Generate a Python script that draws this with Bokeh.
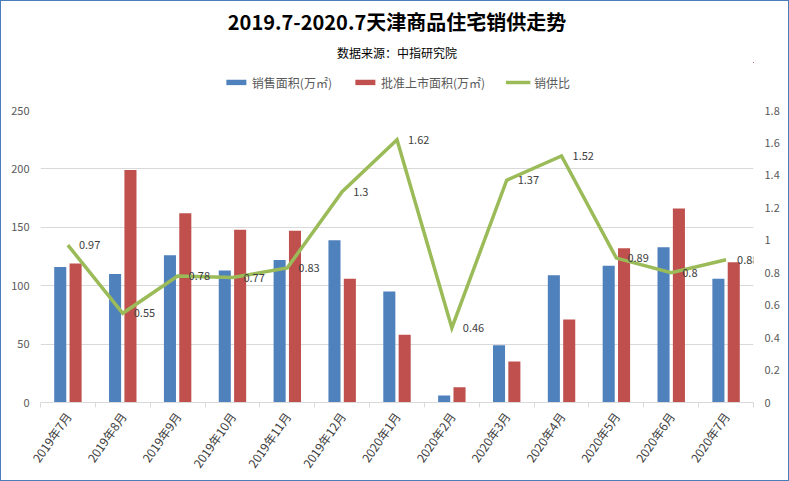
import math
from bokeh.plotting import figure
from bokeh.layouts import column
from bokeh.models import (ColumnDataSource, Range1d, LinearAxis, FixedTicker, Legend,
                          LegendItem, Title, LabelSet)
from bokeh.transform import dodge
from bokeh.embed import file_html
from bokeh.resources import INLINE
from bokeh.core.properties import value

months = ["2019年7月", "2019年8月", "2019年9月", "2019年10月", "2019年11月", "2019年12月",
          "2020年1月", "2020年2月", "2020年3月", "2020年4月", "2020年5月", "2020年6月", "2020年7月"]
sales = [116, 110, 126, 113, 122, 139, 95, 6, 49, 109, 117, 133, 106]
supply = [119, 199, 162, 148, 147, 106, 58, 13, 35, 71, 132, 166, 120]
ratio = [0.97, 0.55, 0.78, 0.77, 0.83, 1.3, 1.62, 0.46, 1.37, 1.52, 0.89, 0.8, 0.88]
left_ticks = [0, 50, 100, 150, 200, 250]
right_ticks = [0, 0.2, 0.4, 0.6, 0.8, 1, 1.2, 1.4, 1.6, 1.8]
series_names = ["销售面积(万㎡)", "批准上市面积(万㎡)", "销供比"]

FONT = "Noto Sans CJK SC"
BLUE, RED, GREEN = "#4F81BD", "#C0504D", "#9BBB59"
n = len(months)
xs = list(range(n))
src = ColumnDataSource(dict(x=xs, sales=sales, supply=supply, ratio=ratio,
                            ratio_label=[f"{r:g}" for r in ratio]))

# ---------- header: title, subtitle, legend ----------
# (its ranges are chosen so that the key renderers draw nothing; they only feed the legend)
h = figure(width=787, height=101, output_backend="svg", toolbar_location=None,
           x_range=Range1d(-30, -20), y_range=Range1d(-30, -20),
           x_axis_location=None, y_axis_location=None,
           min_border_left=0, min_border_right=0, min_border_top=0, min_border_bottom=0)
h.grid.visible = False
h.outline_line_color = None
h.title.text = "2019.7-2020.7天津商品住宅销供走势"
h.title.align = "center"
h.title.text_font = FONT
h.title.text_font_size = "20px"
h.title.text_font_style = "bold"
h.title.text_color = "black"
h.title.standoff = 7
sub = Title(text="数据来源：中指研究院", align="center", text_font=FONT,
            text_font_size="12px", text_font_style="normal", text_color="black",
            standoff=4)
h.add_layout(sub, "above")

k1 = h.vbar(x="x", top="sales", width=0.22, source=src, fill_color=BLUE, line_color=None)
k2 = h.vbar(x="x", top="supply", width=0.22, source=src, fill_color=RED, line_color=None)
k3 = h.line(x="x", y="ratio", source=src, line_color=GREEN, line_width=3.5)
legend = Legend(items=[LegendItem(label=series_names[0], renderers=[k1]),
                       LegendItem(label=series_names[1], renderers=[k2]),
                       LegendItem(label=series_names[2], renderers=[k3])],
                orientation="horizontal", location="center",
                label_text_font=FONT, label_text_font_size="12px", label_text_color="#595959",
                glyph_width=25, glyph_height=7, spacing=20, label_standoff=4,
                border_line_color=None, background_fill_alpha=0, padding=0, margin=0)
h.add_layout(legend)

# ---------- main chart ----------
p = figure(width=787, height=378, output_backend="svg", toolbar_location=None,
           x_range=Range1d(-0.5, n - 0.5), y_range=Range1d(0, 250),
           min_border_left=39, min_border_right=35, min_border_bottom=78, min_border_top=8)
p.title = None
p.extra_y_ranges = {"ratio": Range1d(0, 1.8)}
p.outline_line_color = None

r1 = p.vbar(x=dodge("x", -0.14, range=p.x_range), top="sales", width=0.22, source=src,
            fill_color=BLUE, line_color=None)
r2 = p.vbar(x=dodge("x", 0.14, range=p.x_range), top="supply", width=0.22, source=src,
            fill_color=RED, line_color=None)
r3 = p.line(x="x", y="ratio", source=src, y_range_name="ratio",
            line_color=GREEN, line_width=3.5, line_join="miter")

labels = LabelSet(x="x", y="ratio", text="ratio_label", source=src, y_range_name="ratio",
                  x_offset=11, text_baseline="middle", text_align="left",
                  text_font=value(FONT), text_font_size="11px", text_color="#404040",
                  level="overlay")
p.add_layout(labels)

p.xaxis.ticker = FixedTicker(ticks=xs, minor_ticks=[i - 0.5 for i in range(n + 1)])
p.xaxis.major_label_overrides = {i: m for i, m in enumerate(months)}
p.xaxis.major_label_orientation = math.radians(55)
p.xaxis.major_tick_line_color = None
p.xaxis.minor_tick_line_color = "#D9D9D9"
p.xaxis.minor_tick_out = 5
p.xaxis.minor_tick_in = 0
p.xaxis.axis_line_color = "#D9D9D9"
p.xaxis.major_label_text_font = FONT
p.xaxis.major_label_text_font_size = "12px"
p.xaxis.major_label_text_color = "#404040"

p.yaxis.ticker = FixedTicker(ticks=left_ticks)
p.yaxis.axis_line_color = None
p.yaxis.major_tick_line_color = None
p.yaxis.minor_tick_line_color = None
p.yaxis.major_label_text_font = FONT
p.yaxis.major_label_text_font_size = "11px"
p.yaxis.major_label_text_color = "#595959"

ry = LinearAxis(y_range_name="ratio", ticker=FixedTicker(ticks=right_ticks))
ry.axis_line_color = None
ry.major_tick_line_color = None
ry.minor_tick_line_color = None
ry.major_label_text_font = FONT
ry.major_label_text_font_size = "11px"
ry.major_label_text_color = "#595959"
p.add_layout(ry, "right")

p.xgrid.grid_line_color = None
p.ygrid.grid_line_color = "#D9D9D9"

layout = column(h, p, spacing=0, styles={"border": "1px solid #4A7EBB"})

open("out.html", "w").write(file_html(layout, INLINE))
